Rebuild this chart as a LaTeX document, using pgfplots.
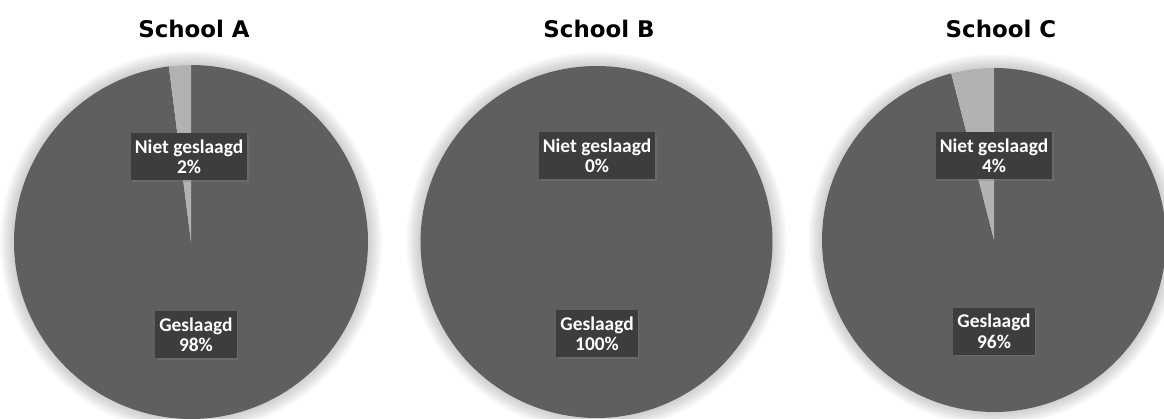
\documentclass[border=0pt]{standalone}
\usepackage{pgfplots}
\pgfplotsset{compat=1.18}
\usepackage{fontspec}
\setmainfont{DejaVu Sans}
\newfontfamily\labfont{Carlito}
\usetikzlibrary{shadows}
\definecolor{pieDark}{HTML}{5F5F5F}
\definecolor{pieLight}{HTML}{B2B2B2}
\definecolor{boxFill}{HTML}{3D3D3D}

% data: percentage "Niet geslaagd" (rest = Geslaagd)
\def\nietA{2}  \def\geslA{98}
\def\nietB{0}  \def\geslB{100}
\def\nietC{4}  \def\geslC{96}

\tikzset{
  labbox/.style={align=center, text=white, fill=boxFill,
    font=\labfont\bfseries\fontsize{19.5}{20.5}\selectfont,
    inner xsep=4bp, inner ysep=6.5bp,
    drop shadow={opacity=0.35, shadow xshift=1.5bp, shadow yshift=-1.5bp}},
  ttl/.style={anchor=base, font=\bfseries\fontsize{23}{26}\selectfont}
}
\pgfplotsset{
  pieax/.style={anchor=center, scale only axis, width=#1, height=#1,
    xmin=-1, xmax=1, ymin=-1, ymax=1, hide axis, clip=false},
}
\newcommand{\glow}{%
  \pgfplotsinvokeforeach{1.008,1.016,1.024,1.032,1.040,1.048,1.056,1.064,1.072,1.080}{%
    \addplot[draw=none, fill=black, fill opacity=0.018, domain=0:360, samples=120] ({##1*cos(x)},{##1*sin(x)});
  }%
}

\begin{document}
\begin{tikzpicture}[x=1bp, y=1bp]
\useasboundingbox (0,0) rectangle (1164,418);

% ---------- School A ----------
\begin{axis}[pieax=354bp, at={(191bp,176bp)}]
\glow
\addplot[draw=none, fill=pieDark, domain={90-3.6*\geslA}:90, samples=200] ({cos(x)},{sin(x)}) -- (axis cs:0,0) -- cycle;
\addplot[draw=none, fill=pieLight, domain=90:{90+3.6*\nietA}, samples=10] ({cos(x)},{sin(x)}) -- (axis cs:0,0) -- cycle;
\node[labbox] at (axis cs:-0.011,0.483) {Niet geslaagd\\2\%};
\node[labbox] at (axis cs:0.028,-0.523) {Geslaagd\\98\%};
\end{axis}

% ---------- School B ----------
\begin{axis}[pieax=352bp, at={(596.5bp,176bp)}]
\glow
\addplot[draw=none, fill=pieDark, domain={90-3.6*\geslB}:90, samples=200] ({cos(x)},{sin(x)}) -- (axis cs:0,0) -- cycle;
\node[labbox] at (axis cs:0.003,0.49) {Niet geslaagd\\0\%};
\node[labbox] at (axis cs:0.003,-0.52) {Geslaagd\\100\%};
\end{axis}

% ---------- School C ----------
\begin{axis}[pieax=344bp, at={(994bp,178bp)}]
\glow
\addplot[draw=none, fill=pieDark, domain={90-3.6*\geslC}:90, samples=200] ({cos(x)},{sin(x)}) -- (axis cs:0,0) -- cycle;
\addplot[draw=none, fill=pieLight, domain=90:{90+3.6*\nietC}, samples=10] ({cos(x)},{sin(x)}) -- (axis cs:0,0) -- cycle;
\node[labbox] at (axis cs:0.0,0.49) {Niet geslaagd\\4\%};
\node[labbox] at (axis cs:0.0,-0.53) {Geslaagd\\96\%};
\end{axis}

\node[ttl] at (194,381) {School A};
\node[ttl] at (599,381) {School B};
\node[ttl] at (1001,381) {School C};
\end{tikzpicture}
\end{document}
